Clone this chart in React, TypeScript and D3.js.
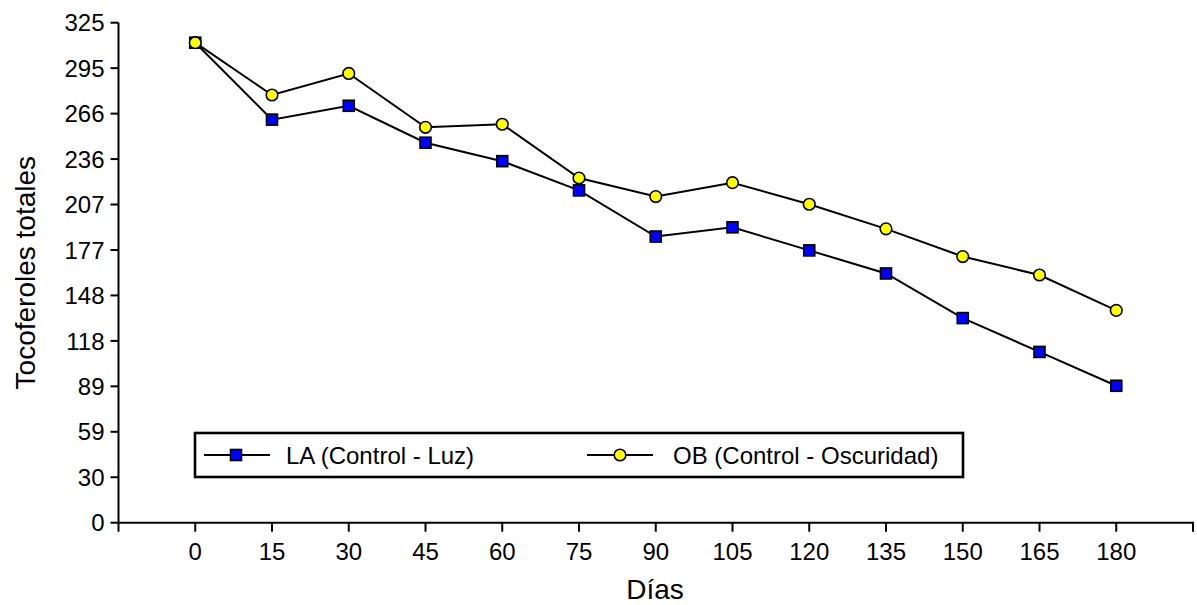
import React from "react";
import * as d3 from "d3";

const days = [0, 15, 30, 45, 60, 75, 90, 105, 120, 135, 150, 165, 180];
const seriesLA = [312, 262, 271, 247, 235, 216, 186, 192, 177, 162, 133, 111, 89];
const seriesOB = [312, 278, 292, 257, 259, 224, 212, 221, 207, 191, 173, 161, 138];
const yTickLabels = ["0", "30", "59", "89", "118", "148", "177", "207", "236", "266", "295", "325"];
const xTickValues = [-15, 0, 15, 30, 45, 60, 75, 90, 105, 120, 135, 150, 165, 180, 195];
const legendLabels = ["LA (Control - Luz)", "OB (Control - Oscuridad)"];

const W = 1197;
const H = 605;
const FONT = "Arial, 'Liberation Sans', sans-serif";

export default function App() {
  const yMax = 325;
  const x = d3.scaleLinear().domain([-15, 195]).range([118.5, 1193]);
  const y = d3.scaleLinear().domain([0, yMax]).range([522.7, 22.7]);
  const yTicks = yTickLabels.map((_, i) => (i * yMax) / (yTickLabels.length - 1));

  const line = d3
    .line<number>()
    .x((_, i) => x(days[i]))
    .y((d) => y(d));

  const sq = 11;
  const r = 5.8;

  return (
    <svg
      width={W}
      height={H}
      style={{ position: "absolute", left: 0, top: 0, background: "#fff" }}
      fontFamily={FONT}
    >
      <rect x={0} y={0} width={W} height={H} fill="#fff" />
      {/* Y axis */}
      <line x1={x(-15)} x2={x(-15)} y1={y(0)} y2={y(yMax)} stroke="#000" strokeWidth={2} />
      {yTicks.map((v, i) => (
        <g key={"yt" + i}>
          <line x1={x(-15) - 8} x2={x(-15)} y1={y(v)} y2={y(v)} stroke="#000" strokeWidth={2} />
          <text x={x(-15) - 14} y={y(v)} dy="0.36em" textAnchor="end" fontSize={24} fill="#000">
            {yTickLabels[i]}
          </text>
        </g>
      ))}
      {/* X axis */}
      <line x1={x(-15) - 1} x2={x(195) + 1} y1={y(0)} y2={y(0)} stroke="#000" strokeWidth={2} />
      {xTickValues.map((v) => (
        <g key={"xt" + v}>
          <line x1={x(v)} x2={x(v)} y1={y(0)} y2={y(0) + 9} stroke="#000" strokeWidth={2} />
          {days.includes(v) && (
            <text x={x(v)} y={560} textAnchor="middle" fontSize={24} fill="#000">
              {v}
            </text>
          )}
        </g>
      ))}
      {/* Axis titles */}
      <text x={655} y={599} textAnchor="middle" fontSize={28} fill="#000">
        Días
      </text>
      <text
        transform={`translate(35, ${(y(0) + y(yMax)) / 2}) rotate(-90)`}
        textAnchor="middle"
        fontSize={28}
        fill="#000"
      >
        Tocoferoles totales
      </text>

      {/* Lines */}
      <path d={line(seriesLA) || ""} fill="none" stroke="#000" strokeWidth={2} />
      <path d={line(seriesOB) || ""} fill="none" stroke="#000" strokeWidth={2} />
      {seriesLA.map((v, i) => (
        <rect
          key={"la" + i}
          x={x(days[i]) - sq / 2}
          y={y(v) - sq / 2}
          width={sq}
          height={sq}
          fill="#0000ff"
          stroke="#000"
          strokeWidth={1.6}
        />
      ))}
      {seriesOB.map((v, i) => (
        <circle key={"ob" + i} cx={x(days[i])} cy={y(v)} r={r} fill="#ffff00" stroke="#000" strokeWidth={1.6} />
      ))}

      {/* Legend */}
      <rect x={195} y={433} width={768} height={44} fill="#fff" stroke="#000" strokeWidth={2.6} />
      <line x1={204} x2={270} y1={455} y2={455} stroke="#000" strokeWidth={2} />
      <rect x={236 - sq / 2} y={455 - sq / 2} width={sq} height={sq} fill="#0000ff" stroke="#000" strokeWidth={1.6} />
      <text x={286} y={455} dy="0.36em" fontSize={24} fill="#000">
        {legendLabels[0]}
      </text>
      <line x1={587} x2={653} y1={455} y2={455} stroke="#000" strokeWidth={2} />
      <circle cx={620} cy={455} r={r} fill="#ffff00" stroke="#000" strokeWidth={1.6} />
      <text x={673} y={455} dy="0.36em" fontSize={24} fill="#000">
        {legendLabels[1]}
      </text>
    </svg>
  );
}
